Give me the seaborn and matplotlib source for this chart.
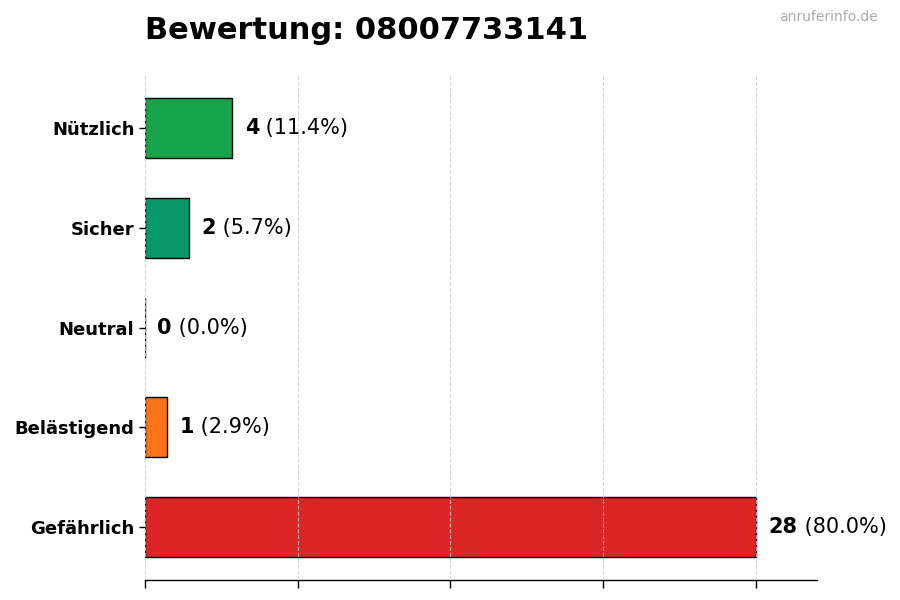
import matplotlib
matplotlib.use("Agg")
import matplotlib.pyplot as plt
import seaborn as sns

# Daten
kategorien = ["Nützlich", "Sicher", "Neutral", "Belästigend", "Gefährlich"]
anzahl = [4, 2, 0, 1, 28]
farben = ["#16a34a", "#059669", "#6b7280", "#f97316", "#dc2626"]
nummer = "08007733141"

gesamt = sum(anzahl)

sns.set_style("white")
plt.rcParams['font.family'] = ['DejaVu Sans']
plt.rcParams['text.color'] = 'black'
plt.rcParams['ytick.color'] = 'black'
plt.rcParams['xtick.color'] = 'black'

fig = plt.figure(figsize=(9, 6), dpi=100)
ax = fig.add_axes([0.161, 0.033, 0.747, 0.842])

sns.barplot(x=anzahl, y=kategorien, hue=kategorien, palette=farben,
            orient="h", width=0.6, edgecolor="black", linewidth=1,
            saturation=1, legend=False, ax=ax)

ax.set_xlim(0, max(anzahl) * 1.1)
ax.set_ylim(len(kategorien) - 0.47, -0.53)
ax.set_xticks([0, 7, 14, 21, 28])
ax.set_xticklabels([])
ax.set_xlabel("")
ax.set_ylabel("")
ax.tick_params(axis="x", length=6, width=1, color="black", bottom=True)
ax.tick_params(axis="y", length=4, width=1, color="black", left=True)
for lbl in ax.get_yticklabels():
    lbl.set_fontweight("bold")
    lbl.set_fontsize(13)
    lbl.set_color("black")

ax.grid(axis="x", linestyle="--", color="#cccccc", linewidth=0.8, alpha=0.8)
ax.grid(axis="y", visible=False)
ax.set_axisbelow(False)

for s in ["top", "right", "left"]:
    ax.spines[s].set_visible(False)
ax.spines["bottom"].set_color("black")
ax.spines["bottom"].set_linewidth(1)

for i, v in enumerate(anzahl):
    pct = v / gesamt * 100
    t1 = ax.annotate(str(v), xy=(v, i), xytext=(9, 0), textcoords="offset points",
                     ha="left", va="center", fontsize=15, fontweight="bold",
                     color="black")
    ax.annotate(f" ({pct:.1f}%)", xy=(1, 0), xycoords=t1,
                ha="left", va="bottom", fontsize=15, color="black")

ax.set_title(f"Bewertung: {nummer}", loc="left", fontsize=22,
             fontweight="bold", pad=26, color="black")
fig.text(0.975, 0.972, "anruferinfo.de", ha="right", va="center",
         fontsize=10, color="#aaaaaa")

fig.savefig("out.png", dpi=100)
